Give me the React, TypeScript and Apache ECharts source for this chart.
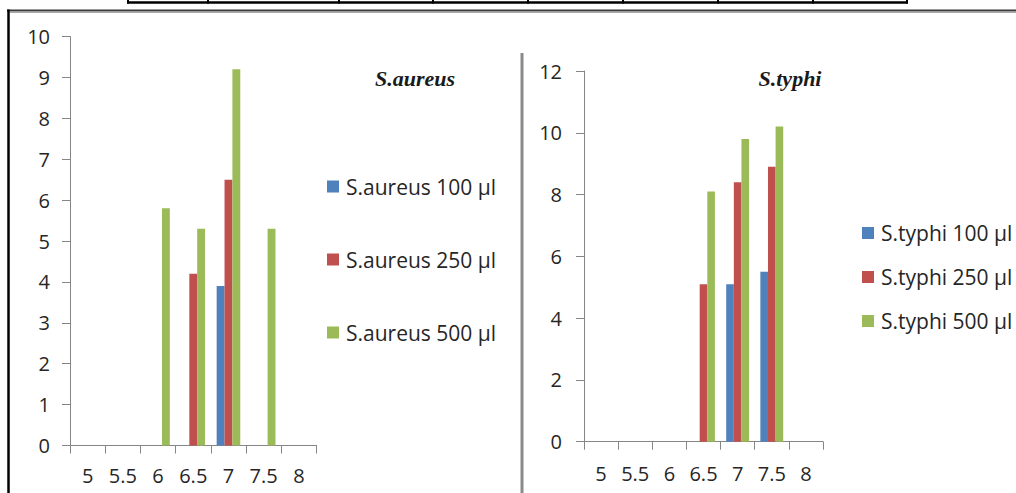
import React, { useEffect, useRef } from "react";
import * as echarts from "echarts";

// pH levels on the x axes
const phLevels = ["5", "5.5", "6", "6.5", "7", "7.5", "8"];

// S.aureus panel
const aureusNames = ["S.aureus 100 µl", "S.aureus 250 µl", "S.aureus 500 µl"];
const aureus100 = [0, 0, 0, 0, 3.9, 0, 0];
const aureus250 = [0, 0, 0, 4.2, 6.5, 0, 0];
const aureus500 = [0, 0, 5.8, 5.3, 9.2, 5.3, 0];

// S.typhi panel
const typhiNames = ["S.typhi 100 µl", "S.typhi 250 µl", "S.typhi 500 µl"];
const typhi100 = [0, 0, 0, 0, 5.1, 5.5, 0];
const typhi250 = [0, 0, 0, 5.1, 8.4, 8.9, 0];
const typhi500 = [0, 0, 0, 8.1, 9.8, 10.2, 0];

const doseColors = ["#4F81BD", "#C0504D", "#9BBB59"];

const LABEL_FONT = '"Open Sans", "Noto Sans", sans-serif';
const AXIS_GRAY = "#868686";
const TEXT_DARK = "#262626";

function valueAxis(gridIndex: number, max: number, interval: number, margin: number) {
  return {
    type: "value" as const,
    gridIndex,
    min: 0,
    max,
    interval,
    splitLine: { show: false },
    axisLine: { show: true, lineStyle: { color: AXIS_GRAY, width: 1 } },
    axisTick: { show: true, length: 8, lineStyle: { color: AXIS_GRAY } },
    axisLabel: {
      margin,
      color: TEXT_DARK,
      fontFamily: LABEL_FONT,
      fontSize: 20,
    },
  };
}

function categoryAxis(gridIndex: number, margin: number) {
  return {
    type: "category" as const,
    gridIndex,
    data: phLevels,
    boundaryGap: true,
    axisLine: { show: true, lineStyle: { color: AXIS_GRAY, width: 1 } },
    axisTick: { show: true, length: 8, lineStyle: { color: AXIS_GRAY } },
    axisLabel: {
      margin,
      color: TEXT_DARK,
      fontFamily: LABEL_FONT,
      fontSize: 20,
      interval: 0,
    },
  };
}

function barSeries(name: string, data: number[], color: string, axisIndex: number) {
  return {
    type: "bar" as const,
    name,
    data,
    xAxisIndex: axisIndex,
    yAxisIndex: axisIndex,
    barGap: "0%",
    barCategoryGap: "33%",
    itemStyle: { color },
  };
}

function legend(names: string[], left: number, top: number, itemGap: number) {
  return {
    data: names,
    orient: "vertical" as const,
    left,
    top,
    padding: 0,
    itemGap,
    itemWidth: 12,
    itemHeight: 12,
    icon: "rect",
    selectedMode: false,
    textStyle: {
      color: TEXT_DARK,
      fontFamily: LABEL_FONT,
      fontSize: 21,
      lineHeight: 20,
      padding: [0, 0, 0, 2],
    },
  };
}

function buildGraphics() {
  const tableEdges = [128, 208, 339, 433, 528, 623, 718, 813, 907];
  const items: any[] = [];
  // bottom edge of the table row above the figure
  items.push({
    type: "line",
    shape: { x1: 127, y1: 2.5, x2: 908, y2: 2.5 },
    style: { stroke: "#000", lineWidth: 2.5 },
  });
  tableEdges.forEach((x) => {
    items.push({
      type: "line",
      shape: { x1: x, y1: 0, x2: x, y2: 3.5 },
      style: { stroke: "#000", lineWidth: 2 },
    });
  });
  // figure frame
  items.push({
    type: "line",
    shape: { x1: 7, y1: 10.5, x2: 1016, y2: 10.5 },
    style: { stroke: "#3a3a3a", lineWidth: 2 },
  });
  items.push({
    type: "line",
    shape: { x1: 10, y1: 12.5, x2: 1016, y2: 12.5 },
    style: { stroke: "#a8a8a8", lineWidth: 1 },
  });
  items.push({
    type: "line",
    shape: { x1: 8.5, y1: 9.5, x2: 8.5, y2: 493 },
    style: { stroke: "#000", lineWidth: 2.5 },
  });
  // divider between the two panels
  items.push({
    type: "line",
    shape: { x1: 522, y1: 53, x2: 522, y2: 493 },
    style: { stroke: "#8a8a8a", lineWidth: 3 },
  });
  // panel titles
  const titleStyle = {
    fontFamily: '"Liberation Serif", "DejaVu Serif", serif',
    fontSize: 22,
    fontWeight: "bold",
    fontStyle: "italic",
    fill: "#1a1a1a",
    align: "center",
    verticalAlign: "middle",
    textAlign: "center",
    textVerticalAlign: "middle",
  };
  items.push({ type: "text", x: 415, y: 78, style: { ...titleStyle, text: "S.aureus" } });
  items.push({ type: "text", x: 790, y: 78, style: { ...titleStyle, text: "S.typhi" } });
  return items;
}

export default function App() {
  const ref = useRef<HTMLDivElement>(null);

  useEffect(() => {
    if (!ref.current) return;
    const chart = echarts.init(ref.current, undefined, { renderer: "svg" });
    chart.setOption({
      animation: false,
      backgroundColor: "#ffffff",
      grid: [
        { left: 70, top: 36.5, width: 246.5, height: 409 },
        { left: 584, top: 71, width: 239, height: 370.7 },
      ],
      xAxis: [categoryAxis(0, 20), categoryAxis(1, 22)],
      yAxis: [valueAxis(0, 10, 1, 20), valueAxis(1, 12, 2, 22)],
      legend: [legend(aureusNames, 327, 176, 52), legend(typhiNames, 862, 222.5, 23)],
      series: [
        barSeries(aureusNames[0], aureus100, doseColors[0], 0),
        barSeries(aureusNames[1], aureus250, doseColors[1], 0),
        barSeries(aureusNames[2], aureus500, doseColors[2], 0),
        barSeries(typhiNames[0], typhi100, doseColors[0], 1),
        barSeries(typhiNames[1], typhi250, doseColors[1], 1),
        barSeries(typhiNames[2], typhi500, doseColors[2], 1),
      ],
      graphic: buildGraphics(),
    });
    return () => chart.dispose();
  }, []);

  return (
    <div
      ref={ref}
      style={{ position: "fixed", left: 0, top: 0, width: 1016, height: 493, background: "#fff" }}
    />
  );
}
